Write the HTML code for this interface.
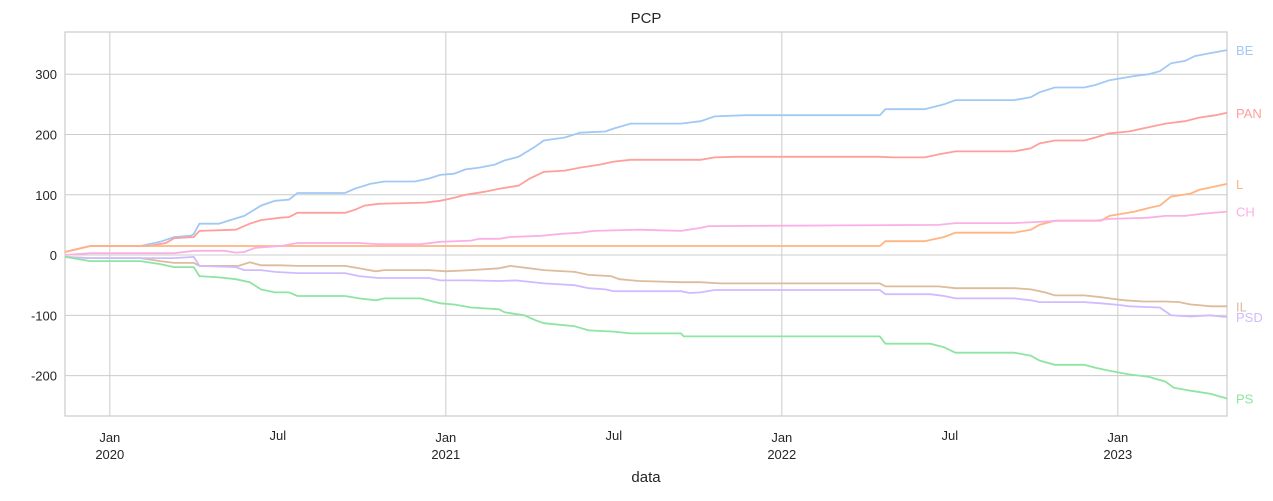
<!DOCTYPE html>
<html><head><meta charset="utf-8"><style>
body{margin:0;background:#fff;font-family:"Liberation Sans","DejaVu Sans",sans-serif;}
</style></head><body>
<svg id="chart" width="1273" height="496" xmlns="http://www.w3.org/2000/svg" font-family="Liberation Sans, DejaVu Sans, sans-serif"></svg>
<script>
// months since Jan 2020, values
const seriesNames = ["BE","PAN","L","CH","IL","PSD","PS"];
const seriesColors = ["#a1c9f4","#ff9f9b","#ffb482","#fab0e4","#debb9b","#d0bbff","#8de5a1"];
const beT=[-1.6,-0.7,1.1,1.8,2.3,2.9,3.0,3.2,3.9,4.3,4.8,5.4,5.9,6.4,6.7,8.4,8.75,9.3,9.8,10.9,11.4,11.8,12.3,12.7,13.2,13.75,14.1,14.6,15.2,15.5,16.25,16.8,17.7,18.0,18.6,20.4,21.1,21.6,22.7,27.5,27.7,29.1,29.8,30.2,32.3,32.9,33.2,33.75,34.8,35.2,35.7,36.6,37.1,37.5,37.9,38.4,38.75,39.3,39.9];
const beV=[5,15,15,22,30,32,35,52,52,58,65,82,90,92,103,103,110,118,122,122,127,133,135,142,145,150,157,163,180,190,195,203,205,210,218,218,222,230,232,232,242,242,250,257,257,262,270,278,278,282,290,297,300,305,318,322,330,335,340];
const panT=[-1.6,-0.7,1.4,2.0,2.3,3.0,3.2,4.5,5.0,5.4,6.1,6.4,6.7,8.4,8.75,9.1,9.6,11.25,11.8,12.3,12.7,13.4,13.9,14.6,15.0,15.5,16.25,16.8,17.5,18.0,18.6,20.4,21.1,21.6,22.3,27.5,28.0,29.1,29.6,30.2,32.3,32.9,33.2,33.75,34.8,35.2,35.7,36.4,37.1,37.7,38.4,38.9,39.5,39.9];
const panV=[5,15,15,20,28,30,40,42,52,58,62,63,70,70,75,82,85,87,90,95,100,105,110,115,127,138,140,145,150,155,158,158,158,162,163,163,162,162,167,172,172,177,185,190,190,195,202,205,212,218,222,228,232,236];
const lT=[-1.6,-0.7,3.2,27.5,27.7,29.1,29.8,30.2,32.3,32.9,33.2,33.75,35.4,35.7,36.6,37.1,37.5,37.9,38.6,38.9,39.3,39.9];
const lV=[5,15,15,15,23,23,30,37,37,42,50,57,57,65,72,78,82,97,102,108,112,118];
const chT=[-1.6,-0.7,2.3,3.0,4.1,4.5,4.8,5.2,6.1,6.7,8.9,9.6,11.1,11.8,12.9,13.2,13.9,14.3,15.4,16.1,16.8,17.3,18.9,20.4,21.1,21.4,29.6,30.2,32.3,33.2,33.9,35.2,35.7,37.1,37.7,38.4,38.9,39.9];
const chV=[0,3,3,7,7,4,5,12,15,20,20,18,18,22,24,27,27,30,32,35,37,40,42,40,45,48,50,53,53,55,57,57,60,62,65,65,68,72];
const ilT=[-1.6,-0.7,1.1,1.8,2.3,3.0,3.2,4.6,5.0,5.4,6.1,6.7,8.4,8.9,9.5,9.8,11.4,12.0,12.9,13.9,14.3,15.0,15.5,16.6,17.1,17.9,18.2,18.9,20.4,21.1,21.8,27.5,27.7,29.6,30.2,32.3,32.9,33.4,33.75,34.8,35.4,35.7,36.25,36.9,37.7,38.2,38.6,38.9,39.3,39.9];
const ilV=[-3,-5,-5,-10,-13,-13,-18,-18,-12,-17,-17,-18,-18,-22,-27,-25,-25,-27,-25,-22,-18,-22,-25,-28,-33,-35,-40,-43,-45,-45,-47,-47,-52,-52,-55,-55,-57,-62,-67,-67,-70,-72,-75,-77,-77,-78,-82,-83,-85,-85];
const psdT=[-1.6,-0.7,2.3,3.0,3.2,4.5,4.8,5.4,5.9,6.7,8.4,8.9,9.6,11.4,11.8,12.9,13.9,14.5,15.5,16.6,17.1,17.7,18.0,20.4,20.7,21.1,21.6,27.5,27.7,29.3,29.8,30.2,32.3,32.9,33.2,34.8,35.4,36.1,36.4,37.5,37.9,38.6,39.3,39.9];
const psdV=[-3,-5,-5,-3,-18,-20,-25,-25,-28,-30,-30,-35,-38,-38,-42,-42,-43,-42,-47,-50,-55,-57,-60,-60,-63,-62,-58,-58,-65,-65,-68,-72,-72,-75,-78,-78,-80,-83,-85,-87,-100,-102,-100,-103];
const psT=[-1.6,-0.7,1.1,1.8,2.3,3.0,3.2,3.9,4.5,5.0,5.4,5.9,6.4,6.7,8.4,8.9,9.5,9.8,11.1,11.8,12.3,12.9,13.9,14.1,14.8,15.2,15.5,16.6,17.1,18.0,18.6,20.4,20.5,27.5,27.7,29.3,29.8,30.2,32.3,32.9,33.2,33.75,34.8,35.2,35.7,36.4,37.1,37.7,38.0,38.6,39.3,39.9];
const psV=[-3,-10,-10,-15,-20,-20,-35,-37,-40,-45,-57,-62,-62,-68,-68,-72,-75,-72,-72,-80,-82,-87,-90,-95,-100,-108,-113,-118,-125,-127,-130,-130,-135,-135,-147,-147,-153,-162,-162,-167,-175,-182,-182,-187,-192,-198,-202,-210,-220,-225,-230,-238];
const seriesT=[beT,panT,lT,chT,ilT,psdT,psT];
const seriesV=[beV,panV,lV,chV,ilV,psdV,psV];
const yTicks=[-200,-100,0,100,200,300];
const janTicks=[0,12,24,36];
const janLabels=["2020","2021","2022","2023"];
const julTicks=[6,18,30];

const L=65,R=1227,T=32,B=416;
const tMin=-1.6,tMax=39.9,vMin=-267,vMax=370;
const xs=t=>L+(t-tMin)/(tMax-tMin)*(R-L);
const ys=v=>B-(v-vMin)/(vMax-vMin)*(B-T);
const svg=document.getElementById('chart');
const NS='http://www.w3.org/2000/svg';
function mk(tag,attrs,text){const e=document.createElementNS(NS,tag);for(const k in attrs)e.setAttribute(k,attrs[k]);if(text!==undefined)e.textContent=text;svg.appendChild(e);return e;}

let e=mk('rect',{x:L,y:T,width:R-L,height:B-T,fill:'#fff',stroke:'#cccccc','stroke-width':1.2});


yTicks.forEach(v=>{
  let g=mk('line',{x1:L,x2:R,y1:ys(v),y2:ys(v),stroke:'#cccccc','stroke-width':1});
  
  
  let t=mk('text',{x:L-8,y:ys(v)+5,'text-anchor':'end','font-size':13,fill:'#262626'},String(v));
  
  
});
janTicks.forEach((m,i)=>{
  let g=mk('line',{x1:xs(m),x2:xs(m),y1:T,y2:B,stroke:'#cccccc','stroke-width':1});
  
  
  let t=mk('text',{x:xs(m),y:442,'text-anchor':'middle','font-size':13,fill:'#262626'},'Jan');
  
  
  let y=mk('text',{x:xs(m),y:459,'text-anchor':'middle','font-size':13,fill:'#262626'},janLabels[i]);
  
  
});
julTicks.forEach(m=>{
  let t=mk('text',{x:xs(m),y:440,'text-anchor':'middle','font-size':13,fill:'#262626'},'Jul');
  
  
});
seriesNames.forEach((n,i)=>{
  const tt=seriesT[i],vv=seriesV[i];
  const d=tt.map((t,j)=>(j?'L':'M')+xs(t).toFixed(1)+','+ys(vv[j]).toFixed(1)).join('');
  let p=mk('path',{d:d,fill:'none',stroke:seriesColors[i],'stroke-width':1.8});
  
  
  let lb=mk('text',{x:1236,y:ys(vv[vv.length-1])+5,'font-size':13,fill:seriesColors[i]},n);
  
  
});
let ti=mk('text',{x:(L+R)/2,y:23,'text-anchor':'middle','font-size':15,fill:'#262626'},'PCP');


let xt=mk('text',{x:(L+R)/2,y:482,'text-anchor':'middle','font-size':15,fill:'#262626'},'data');


</script>
</body></html>
